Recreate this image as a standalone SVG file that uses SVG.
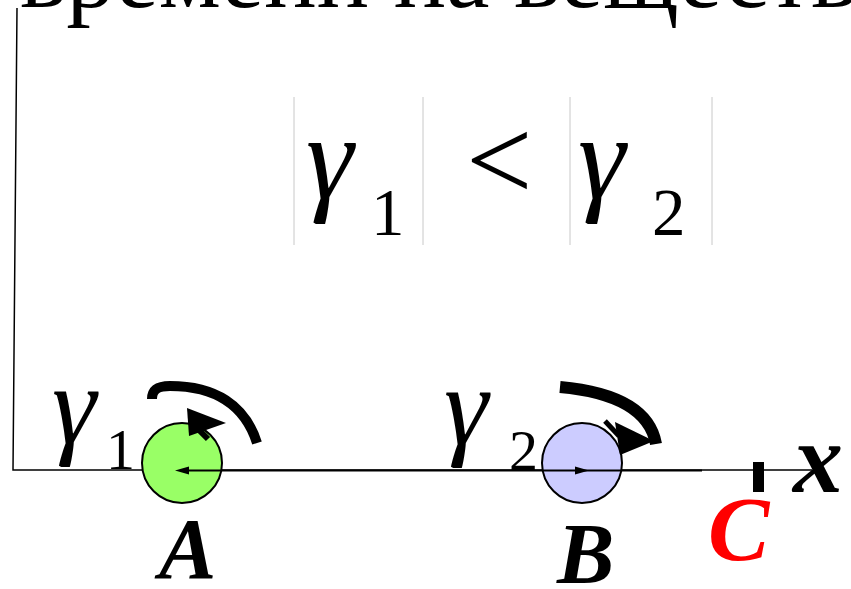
<svg xmlns="http://www.w3.org/2000/svg" width="851" height="589" viewBox="0 0 851 589">
<style>
.sep{stroke:#c8c8c8;stroke-width:1}
.thick{fill:none;stroke:#000;stroke-linecap:butt}
</style>
<rect width="851" height="589" fill="#fff"/>
<text id="title" x="20" y="7" font-size="98" font-family="Liberation Serif">времени на веществ</text>
<g id="formula">
<line class="sep" x1="294" y1="97" x2="294" y2="245"/>
<line class="sep" x1="423" y1="97" x2="423" y2="245"/>
<line class="sep" x1="570" y1="97" x2="570" y2="245"/>
<line class="sep" x1="712" y1="97" x2="712" y2="245"/>
<text x="306" y="198" font-size="120" font-family="Liberation Serif" font-style="italic">γ</text>
<text x="371" y="235" font-size="67" font-family="Liberation Serif">1</text>
<text x="466" y="200" font-size="118" font-family="Liberation Serif">&lt;</text>
<text x="578" y="198" font-size="120" font-family="Liberation Serif" font-style="italic">γ</text>
<text x="652" y="235" font-size="67" font-family="Liberation Serif">2</text>
</g>
<g id="axes">
<path d="M17,8 L13,470 L812,470" fill="none" stroke="#000" stroke-width="1.5"/>
<rect x="753" y="462" width="11" height="30" fill="#000"/>
<text x="793" y="492" font-size="100" font-family="Liberation Serif" font-style="italic" font-weight="bold">x</text>
</g>
<g id="nodeA">
<circle cx="182" cy="463" r="40" fill="#99ff66" stroke="#000" stroke-width="2"/>
<text x="159" y="578" font-size="86" font-family="Liberation Serif" font-style="italic" font-weight="bold">A</text>
<text x="52" y="443" font-size="112" font-family="Liberation Serif" font-style="italic">γ</text>
<text x="106" y="469" font-size="58" font-family="Liberation Serif">1</text>
</g>
<g id="nodeB">
<circle cx="582" cy="463" r="40" fill="#ccccff" stroke="#000" stroke-width="2"/>
<text x="557" y="583" font-size="86" font-family="Liberation Serif" font-style="italic" font-weight="bold">B</text>
<text x="444" y="444" font-size="112" font-family="Liberation Serif" font-style="italic">γ</text>
<text x="509" y="470" font-size="58" font-family="Liberation Serif">2</text>
</g>
<g id="nodeC">
<text x="708" y="560" font-size="92" font-family="Liberation Serif" font-style="italic" font-weight="bold" fill="#ff0000">C</text>
</g>
<g id="connectors">
<line x1="180" y1="470.5" x2="702" y2="470.5" stroke="#000" stroke-width="2"/>
<polygon points="175,470.5 189,466.5 189,474.5" fill="#000"/>
<polygon points="589,470.5 575,466.5 575,474.5" fill="#000"/>
<path class="thick" d="M152,399 C152,389 158,386 170,386 C215,386 245,405 257,443" stroke-width="10"/>
<polygon points="187,408 226,423 189,436" fill="#000"/>
<line x1="199" y1="430" x2="208" y2="439" stroke="#000" stroke-width="6"/>
<path class="thick" d="M560,387 C615,392 650,410 656,444" stroke-width="12"/>
<polygon points="615,422 654,441 620,455" fill="#000"/>
<line x1="605" y1="421" x2="619" y2="436" stroke="#000" stroke-width="5"/>
</g>
</svg>
